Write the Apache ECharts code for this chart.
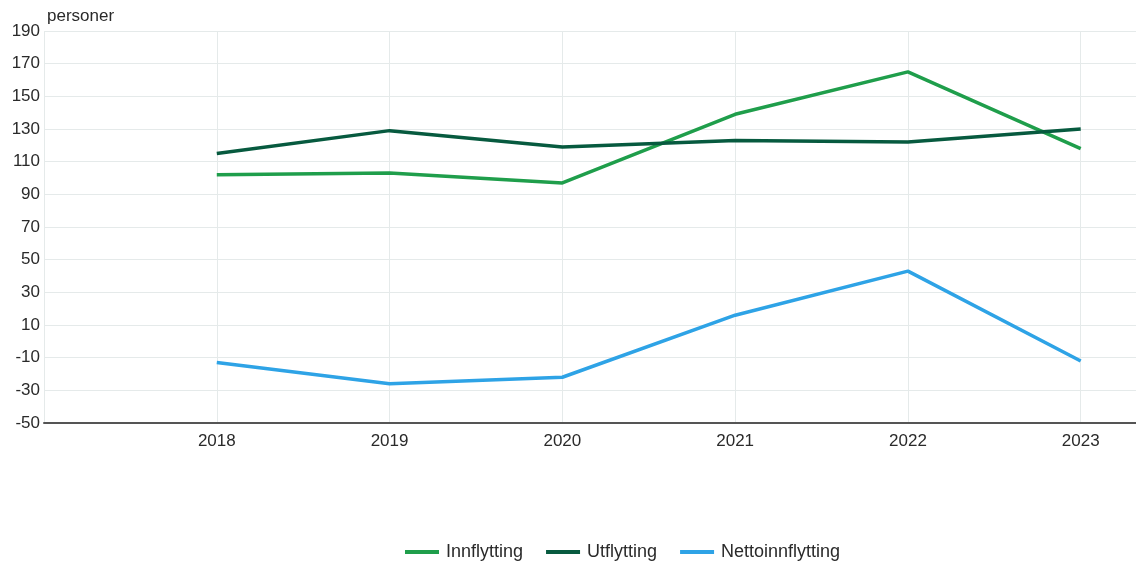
<!DOCTYPE html>
<html>
<head>
<meta charset="utf-8">
<script src="https://cdn.jsdelivr.net/npm/echarts@6/dist/echarts.min.js"></script>
<style>
html,body{margin:0;padding:0;background:#fff;}
#chart{width:1136px;height:562px;}
</style>
</head>
<body>
<div id="chart"></div>
<script>
const years = [2018, 2019, 2020, 2021, 2022, 2023];
const innflytting = [102, 103, 97, 139, 165, 118];
const utflytting = [115, 129, 119, 123, 122, 130];
const nettoinnflytting = [-13, -26, -22, 16, 43, -12];
const yTicks = [-50, -30, -10, 10, 30, 50, 70, 90, 110, 130, 150, 170, 190];
const xGridYears = [2017, 2018, 2019, 2020, 2021, 2022, 2023];
const seriesNames = ['Innflytting', 'Utflytting', 'Nettoinnflytting'];
const colors = ['#1f9e4b', '#075a3f', '#2ea3e6'];

const pair = arr => years.map((y, i) => [y, arr[i]]);
const font = '"Liberation Sans", Arial, sans-serif';
const fs = 17;

const chart = echarts.init(document.getElementById('chart'), null, {renderer: 'canvas'});
chart.setOption({
  animation: false,
  color: colors,
  textStyle: {fontFamily: font},
  grid: {left: 44, right: 0, top: 31, bottom: 139, containLabel: false},
  legend: {
    top: 538, left: 400,
    itemWidth: 34, itemHeight: 4, itemGap: 23,
    icon: 'rect',
    textStyle: {fontSize: 18, color: '#2a2a2a', fontFamily: font, padding: [0, 0, 0, 2]},
    data: seriesNames
  },
  xAxis: {
    type: 'value',
    min: 2017, max: 2023.32,
    axisLine: {show: true, onZero: false, lineStyle: {color: '#555', width: 2}},
    axisTick: {show: false, customValues: xGridYears},
    axisLabel: {customValues: years, fontSize: fs, color: '#2a2a2a', margin: 10, fontFamily: font,
      formatter: v => String(Math.round(v))},
    splitLine: {show: true, lineStyle: {color: '#e5eaea', width: 1}}
  },
  yAxis: {
    type: 'value',
    min: -50, max: 190,
    name: 'personer',
    nameLocation: 'end',
    nameGap: 6,
    nameTextStyle: {align: 'left', fontSize: fs, color: '#2a2a2a', padding: [0, 0, 0, 3], fontFamily: font},
    axisLine: {show: false},
    axisTick: {show: false, customValues: yTicks},
    axisLabel: {customValues: yTicks, fontSize: fs, color: '#2a2a2a', margin: 4, fontFamily: font},
    splitLine: {show: true, lineStyle: {color: '#e5eaea', width: 1}}
  },
  series: [
    {name: seriesNames[0], type: 'line', data: pair(innflytting), showSymbol: false, lineStyle: {width: 3.5}},
    {name: seriesNames[1], type: 'line', data: pair(utflytting), showSymbol: false, lineStyle: {width: 3.5}},
    {name: seriesNames[2], type: 'line', data: pair(nettoinnflytting), showSymbol: false, lineStyle: {width: 3.5}}
  ]
});
</script>
</body>
</html>
